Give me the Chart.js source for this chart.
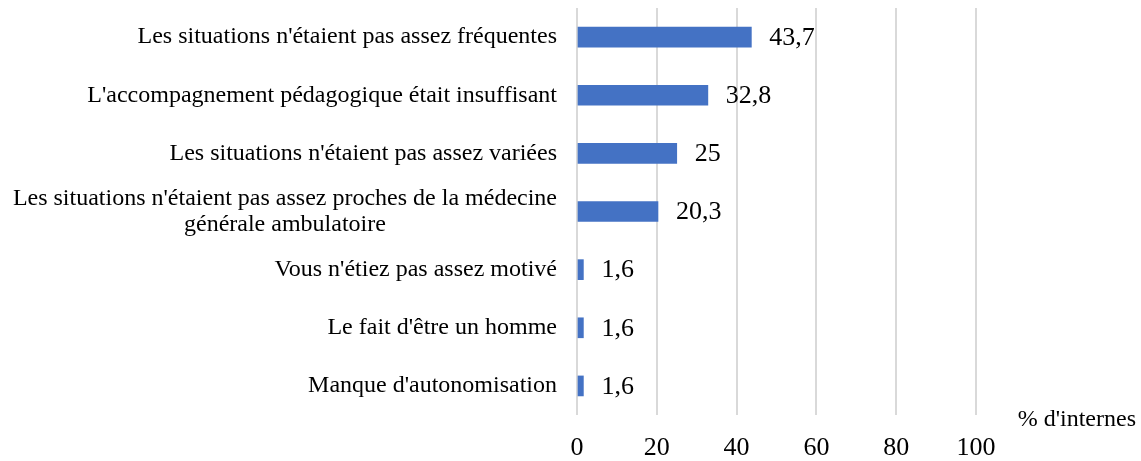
<!DOCTYPE html>
<html>
<head>
<meta charset="utf-8">
<script src="https://cdn.jsdelivr.net/npm/chart.js@4.4.1/dist/chart.umd.min.js"></script>
<style>
  html, body { margin: 0; padding: 0; background: #fff; }
  #wrap { width: 1141px; height: 461px; }
</style>
</head>
<body>
<div id="wrap"><canvas id="barChart" width="1141" height="461"></canvas></div>
<script>
const categories = [
    ["Les situations n'étaient pas assez fréquentes"],
    ["L'accompagnement pédagogique était insuffisant"],
    ["Les situations n'étaient pas assez variées"],
    ["Les situations n'étaient pas assez proches de la médecine", "générale ambulatoire"],
    ["Vous n'étiez pas assez motivé"],
    ["Le fait d'être un homme"],
    ["Manque d'autonomisation"]
];
const values = [43.7, 32.8, 25, 20.3, 1.6, 1.6, 1.6];
const valueLabels = ['43,7', '32,8', '25', '20,3', '1,6', '1,6', '1,6'];
const xTicks = [0, 20, 40, 60, 80, 100];
const axisTitle = "% d'internes";

const FONT = "'Liberation Serif', 'Times New Roman', serif";
const LABEL_SIZE = 24;

// draws category labels (multi-line ones centred on their widest line), value labels and axis title
const textPlugin = {
    id: 'textPlugin',
    afterDatasetsDraw(chart) {
        const ctx = chart.ctx;
        const yScale = chart.scales.y;
        ctx.save();
        ctx.fillStyle = '#000';
        ctx.textBaseline = 'middle';

        ctx.font = LABEL_SIZE + 'px ' + FONT;
        const right = 557;
        const lineH = 26;
        categories.forEach((lines, i) => {
            const y = yScale.getPixelForValue(i);
            const maxW = Math.max(...lines.map(l => ctx.measureText(l).width));
            const top = y - (lines.length - 1) * lineH / 2;
            lines.forEach((l, j) => {
                ctx.textAlign = lines.length > 1 ? 'center' : 'right';
                const x = lines.length > 1 ? right - maxW / 2 : right;
                ctx.fillText(l, x, top + j * lineH);
            });
        });

        ctx.font = '26px ' + FONT;
        ctx.textAlign = 'left';
        const meta = chart.getDatasetMeta(0);
        meta.data.forEach((bar, i) => {
            ctx.fillText(valueLabels[i], bar.x + 18, bar.y + 1);
        });

        ctx.font = '24px ' + FONT;
        ctx.textAlign = 'right';
        ctx.fillText(axisTitle, 1136, 420);
        ctx.restore();
    }
};

new Chart(document.getElementById('barChart').getContext('2d'), {
    type: 'bar',
    data: {
        labels: categories,
        datasets: [{
            data: values,
            backgroundColor: '#4472C4',
            borderWidth: 0,
            barThickness: 20
        }]
    },
    options: {
        indexAxis: 'y',
        responsive: false,
        animation: false,
        layout: { padding: { top: 8, right: 165, bottom: 0, left: 0 } },
        plugins: {
            legend: { display: false },
            tooltip: { enabled: false }
        },
        scales: {
            x: {
                min: 0,
                max: 100,
                afterBuildTicks: (scale) => { scale.ticks = xTicks.map(v => ({ value: v })); },
                afterFit: (scale) => { scale.height = 46; },
                grid: { color: '#d9d9d9', lineWidth: 2, drawTicks: false },
                border: { display: false },
                ticks: {
                    padding: 18,
                    color: '#000',
                    font: { family: FONT, size: 26 }
                }
            },
            y: {
                grid: { display: false, drawTicks: false },
                border: { display: false },
                afterFit: (scale) => { scale.width = 577; },
                ticks: {
                    autoSkip: false,
                    color: 'rgba(0,0,0,0)',
                    font: { family: FONT, size: 1 }
                }
            }
        }
    },
    plugins: [textPlugin]
});
</script>
</body>
</html>
